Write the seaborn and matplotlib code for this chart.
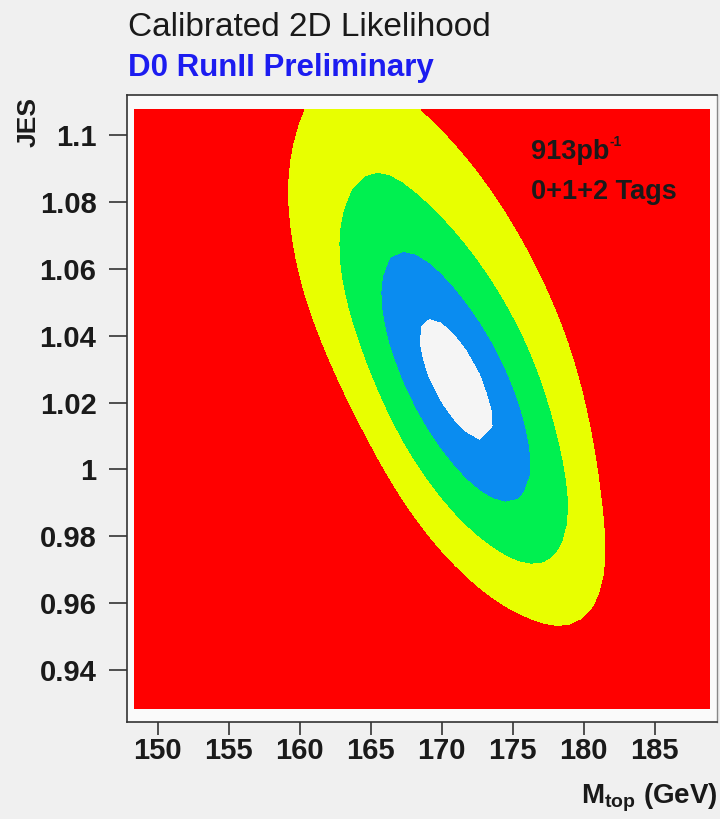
import numpy as np
import matplotlib
matplotlib.use('Agg')
import matplotlib.pyplot as plt
import seaborn as sns

# fit result (centre, widths, correlation)
mtop_center = 171.0
jes_center = 1.027
mtop_sigma = 2.65
jes_sigma = 0.0185
correlation = -0.69
# the outer contours are not elliptical: they open up towards high JES / low Mtop
# and are fatter across the valley than a gaussian would give
upper_stretch = 0.063
left_stretch = 0.095
tail_start = 2.0
tail_curv_high = 0.0   # high-JES/high-Mtop side of the valley
tail_curv_low = 0.5    # low side

# histogram range and binning of the likelihood scan
mtop_range = [148.4, 188.9]
jes_range = [0.9285, 1.1075]
n_bins = [46, 37]

# -2 ln L levels: 1, 2, 3, 4 sigma
levels = [0, 1, 4, 9, 16, 1000]
level_colors = ['#f5f5f5', '#0a8cf0', '#00f050', '#e8ff00', '#ff0000']

sns.set_style('white')
plt.rcParams['font.family'] = ['Liberation Sans', 'DejaVu Sans']
plt.rcParams['mathtext.fontset'] = 'custom'
plt.rcParams['mathtext.rm'] = 'Liberation Sans:bold'
plt.rcParams['mathtext.it'] = 'Liberation Sans:bold'
plt.rcParams['mathtext.bf'] = 'Liberation Sans:bold'

mtop = np.linspace(mtop_range[0], mtop_range[1], n_bins[0])
jes = np.linspace(jes_range[0], jes_range[1], n_bins[1])
M, J = np.meshgrid(mtop, jes)
a = (M - mtop_center) / mtop_sigma
b = (J - jes_center) / jes_sigma
b = np.where(b > 1, b - upper_stretch * (b - 1) ** 2, b)
far_left = np.clip(-a - 2, 0, None)
a = np.where(a < -2, -2 - far_left / (1 + left_stretch * far_left), a)
# principal axes of the correlated gaussian
p = (b - a) / np.sqrt(2 * (1 - correlation))
q = (a + b) / np.sqrt(2 * (1 + correlation))
qa = np.abs(q)
curv = np.where(q > 0, tail_curv_high, tail_curv_low)
q_term = np.where(qa < tail_start, qa ** 2,
                  tail_start ** 2 + 2 * tail_start * (qa - tail_start)
                  + curv * (qa - tail_start) ** 2)
chi2 = p ** 2 + q_term

fig = plt.figure(figsize=(7.2, 8.19), dpi=100, facecolor='#f0f0f0')
ax = fig.add_axes([0.1764, 0.1184, 0.8194, 0.7656])
ax.set_facecolor('#fafafa')
ax.contourf(M, J, chi2, levels=levels, colors=level_colors)

ax.set_xlim(147.85, 189.4)
ax.set_ylim(0.92446, 1.11196)
ax.set_xticks(np.arange(150, 186, 5))
ax.set_xticks(np.arange(148, 190, 1), minor=True)
ax.set_yticks(np.arange(0.94, 1.101, 0.02))
ax.set_yticks(np.arange(0.925, 1.111, 0.005), minor=True)
ax.set_xticklabels(['150', '155', '160', '165', '170', '175', '180', '185'])
ax.set_yticklabels(['0.94', '0.96', '0.98', '1', '1.02', '1.04', '1.06', '1.08', '1.1'])
ax.tick_params(axis='x', which='major', direction='out', length=9, width=1.2,
               labelsize=21, pad=2, color='#333333')
ax.tick_params(axis='x', which='minor', direction='out', length=5, width=1, color='#333333')
ax.tick_params(axis='y', which='major', direction='out', length=13, width=1.2,
               labelsize=21, pad=9, color='#333333')
ax.tick_params(axis='y', which='minor', direction='out', length=6, width=1, color='#333333')
for lab in ax.get_xticklabels() + ax.get_yticklabels():
    lab.set_fontweight('bold')
    lab.set_color('#1a1a1a')
for side in ['left', 'bottom', 'top']:
    ax.spines[side].set_color('#333333')
    ax.spines[side].set_linewidth(1.2)
ax.spines['right'].set_color('#888888')
ax.spines['right'].set_linewidth(1.0)
ax.tick_params(left=True, bottom=True)

lumi = ax.text(176.3, 1.0949, '913pb', fontsize=19.5, fontweight='bold',
               color='#1a1a1a', va='center', ha='left')
ax.annotate('-1', xy=(1.0, 0.9), xycoords=lumi, fontsize=10, fontweight='bold',
            color='#1a1a1a', va='center', ha='left')
ax.text(176.3, 1.083, '0+1+2 Tags', fontsize=19.5, fontweight='bold',
        color='#1a1a1a', va='center', ha='left')

fig.text(0.178, 0.967, 'Calibrated 2D Likelihood', fontsize=24, color='#1a1a1a',
         ha='left', va='center')
fig.text(0.178, 0.917, 'D0 RunII Preliminary', fontsize=22.5, fontweight='bold',
         color='#1c1cf0', ha='left', va='center')
fig.text(0.039, 0.851, 'JES', fontsize=19, fontweight='bold', rotation=90,
         color='#1a1a1a', ha='center', va='center')
fig.text(0.997, 0.0195, r'M$_{top}$ (GeV)', fontsize=20, fontweight='bold',
         color='#1a1a1a', ha='right', va='baseline')

fig.savefig('out.png', dpi=100, facecolor=fig.get_facecolor())
